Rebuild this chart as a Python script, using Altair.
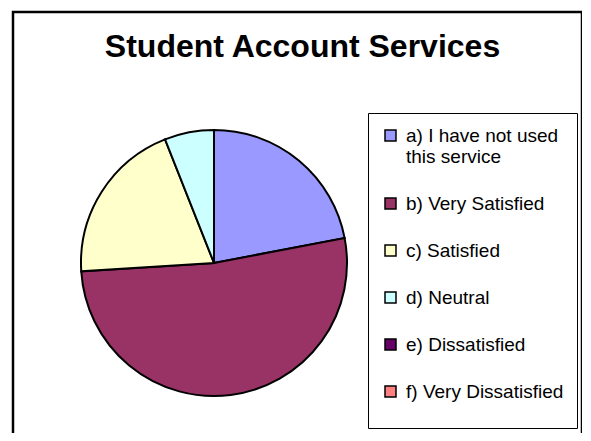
import altair as alt
import pandas as pd

categories = [
    "a) I have not used this service",
    "b) Very Satisfied",
    "c) Satisfied",
    "d) Neutral",
    "e) Dissatisfied",
    "f) Very Dissatisfied",
]
values = [22, 52, 20, 6, 0, 0]
colors = ["#9999FF", "#993366", "#FFFFCC", "#CCFFFF", "#660066", "#FF8080"]

df = pd.DataFrame({"category": categories, "value": values, "idx": list(range(len(categories)))})

label_expr = (
    "datum.label == 'a) I have not used this service' "
    "? ['a) I have not used', 'this service'] : datum.label"
)

chart = (
    alt.Chart(df)
    .mark_arc(outerRadius=133, stroke="black", strokeWidth=2)
    .encode(
        theta=alt.Theta("value:Q", stack=True),
        order=alt.Order("idx:Q"),
        color=alt.Color(
            "category:N",
            scale=alt.Scale(domain=categories, range=colors),
            sort=categories,
            legend=alt.Legend(
                title=" ",
                titleOrient="bottom",
                titleFontSize=12,
                titlePadding=2,
                orient="none",
                legendX=355,
                legendY=101,
                symbolType="square",
                symbolSize=121,
                symbolStrokeColor="black",
                symbolStrokeWidth=1.5,
                symbolOpacity=1,
                labelFont="Liberation Sans",
                labelFontSize=19,
                labelColor="black",
                labelOffset=6,
                labelLimit=260,
                labelExpr=label_expr,
                rowPadding=27,
                padding=13,
                strokeColor="black",
                fillColor="white",
            ),
        ),
        x=alt.value(201),
        y=alt.value(251),
    )
    .properties(
        width=569,
        height=435,
        autosize=alt.AutoSizeParams(type="none"),
        padding={"left": 5, "top": 4, "right": 0, "bottom": -14},
        title=alt.TitleParams(
            "Student Account Services",
            font="Liberation Sans",
            fontSize=32,
            fontWeight="bold",
            color="black",
            anchor="middle",
            baseline="alphabetic",
            offset=-77,
            dx=5,
        ),
    )
    .configure_view(stroke="black", strokeWidth=2.5)
)

chart.save("out.html", embed_options={"renderer": "svg", "actions": False})
